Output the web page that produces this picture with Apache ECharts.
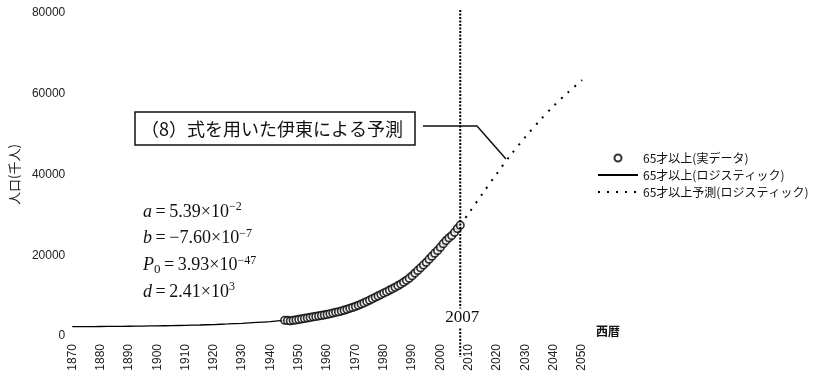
<!DOCTYPE html>
<html>
<head>
<meta charset="utf-8">
<script src="https://cdn.jsdelivr.net/npm/echarts@6/dist/echarts.min.js"></script>
<style>
  html, body { margin: 0; padding: 0; background: #fff; }
  #chart { width: 813px; height: 374px; }
</style>
</head>
<body>
<div id="chart"></div>
<script>
// Logistic fit of the 65+ population (thousands), 1870-2007
const fitYears = [1870, 1875, 1880, 1885, 1890, 1895, 1900, 1905, 1910, 1915, 1920, 1925, 1930, 1935, 1940,
  1945, 1950, 1955, 1960, 1965, 1970, 1975, 1980, 1985, 1990, 1995, 2000, 2005, 2007];
const fitValues = [2300, 2320, 2350, 2380, 2420, 2460, 2510, 2570, 2640, 2730, 2840, 2980, 3150, 3350, 3580,
  3880, 4250, 4730, 5360, 6210, 7310, 8700, 10430, 12550, 15120, 18180, 21730, 25740, 27460];

// Observed 65+ population (thousands), yearly
const obsYears = [1945, 1946, 1947, 1948, 1949, 1950, 1951, 1952, 1953, 1954, 1955, 1956, 1957, 1958, 1959,
  1960, 1961, 1962, 1963, 1964, 1965, 1966, 1967, 1968, 1969, 1970, 1971, 1972, 1973, 1974,
  1975, 1976, 1977, 1978, 1979, 1980, 1981, 1982, 1983, 1984, 1985, 1986, 1987, 1988, 1989,
  1990, 1991, 1992, 1993, 1994, 1995, 1996, 1997, 1998, 1999, 2000, 2001, 2002, 2003, 2004,
  2005, 2006, 2007];
const obsValues = [3900, 3850, 3750, 3880, 3990, 4110, 4240, 4360, 4480, 4600, 4750, 4860, 4970, 5090, 5210,
  5350, 5510, 5680, 5860, 6010, 6180, 6400, 6600, 6860, 7080, 7330, 7600, 7900, 8200, 8550,
  8870, 9220, 9590, 9920, 10270, 10650, 10960, 11350, 11690, 12050, 12470, 12870, 13320, 13780, 14310,
  14900, 15580, 16240, 16900, 17590, 18260, 19020, 19760, 20510, 21190, 22010, 22870, 23630, 24310, 24880,
  25670, 26600, 27460];

// Logistic projection (thousands), 2007-2050
const forecastYears = [2007, 2010, 2015, 2020, 2025, 2030, 2035, 2040, 2045, 2050];
const forecastValues = [27460, 30400, 35400, 40300, 45000, 49300, 53300, 57000, 60300, 63400];

const markYear = 2007;

const seriesNames = ['65才以上(実データ)', '65才以上(ロジスティック)', '65才以上予測(ロジスティック)'];
const paramLines = [
  '{i|a}{n|\u2009=\u20095.39×10}{s|−2}',
  '{i|b}{n|\u2009=\u2009−7.60×10}{s|−7}',
  '{i|P}{sub|0}{n|\u2009=\u20093.93×10}{s|−47}',
  '{i|d}{n|\u2009=\u20092.41×10}{s|3}'
];
const noteText = '（8）式を用いた伊東による予測';

const pairs = (xs, ys) => xs.map((x, i) => [x, ys[i]]);

const chart = echarts.init(document.getElementById('chart'), null, { renderer: 'canvas' });

const sans = '"Liberation Sans", Arial, sans-serif';
const jp = '"Noto Sans CJK JP", sans-serif';
const serif = '"Liberation Serif", "Times New Roman", serif';

chart.setOption({
  animation: false,
  backgroundColor: '#fff',
  grid: { left: 64, right: 231, top: 13, bottom: 38, containLabel: false },
  xAxis: {
    type: 'value',
    min: 1870, max: 2050, interval: 10,
    axisLine: { show: false },
    axisTick: { show: false },
    splitLine: { show: false },
    axisLabel: { rotate: 90, margin: 8, fontSize: 12, fontFamily: sans, color: '#222',
      showMinLabel: true, showMaxLabel: true, formatter: v => String(v) }
  },
  yAxis: {
    type: 'value',
    min: 0, max: 80000, interval: 20000,
    name: '人口(千人)',
    nameLocation: 'middle',
    nameGap: 46,
    nameTextStyle: { fontSize: 13, fontFamily: jp, color: '#222' },
    axisLine: { show: false },
    axisTick: { show: false },
    splitLine: { show: false },
    axisLabel: { margin: 7, fontSize: 12, fontFamily: sans, color: '#222', formatter: v => String(v) }
  },
  legend: {
    orient: 'vertical',
    left: 592, top: 146,
    itemWidth: 40, itemHeight: 7, itemGap: 3,
    textStyle: { fontSize: 12, fontFamily: jp, color: '#111', lineHeight: 14 },
    data: [
      { name: seriesNames[0] },
      { name: seriesNames[1], itemStyle: { opacity: 0 } },
      { name: seriesNames[2], itemStyle: { opacity: 0 } }
    ]
  },
  series: [
    {
      name: seriesNames[1], type: 'line', symbol: 'none', smooth: 0.3, z: 2,
      itemStyle: { color: '#000' },
      lineStyle: { color: '#000', width: 1.3 },
      data: pairs(fitYears, fitValues)
    },
    {
      name: seriesNames[0], type: 'scatter', symbol: 'circle', symbolSize: 7.5, z: 3,
      itemStyle: { color: '#fff', borderColor: '#000', borderWidth: 1.7 },
      data: pairs(obsYears, obsValues)
    },
    {
      name: seriesNames[2], type: 'line', symbol: 'none', smooth: 0.3, z: 2,
      itemStyle: { color: '#000' },
      lineStyle: { color: '#000', width: 2, type: [2, 7] },
      data: pairs(forecastYears, forecastValues)
    }
  ]
});

// Annotations placed from the axes' own scales
const xMark = chart.convertToPixel({ gridIndex: 0 }, [markYear, 0])[0];

const paramRich = {
  i: { fontFamily: serif, fontStyle: 'italic', fontSize: 18, lineHeight: 22, fill: '#111' },
  n: { fontFamily: serif, fontSize: 18, lineHeight: 22, fill: '#111' },
  s: { fontFamily: serif, fontSize: 12, lineHeight: 12, verticalAlign: 'top', fill: '#111' },
  sub: { fontFamily: serif, fontSize: 13, lineHeight: 13, verticalAlign: 'bottom', fill: '#111' }
};

const graphics = [
  // 2007 vertical marker
  {
    type: 'line', z: 50,
    shape: { x1: xMark, y1: 10, x2: xMark, y2: 357 },
    style: { stroke: '#000', lineWidth: 2, lineDash: [2, 1.5] }
  },
  {
    type: 'text', z: 60, x: xMark + 2, y: 318,
    style: { text: String(markYear), font: '17px ' + serif, fill: '#111', align: 'center',
      verticalAlign: 'middle', backgroundColor: '#fff', padding: [1, 1] }
  },
  // Callout box
  {
    type: 'rect', z: 40,
    shape: { x: 135, y: 112, width: 280, height: 33 },
    style: { fill: '#fff', stroke: '#111', lineWidth: 1.5 }
  },
  {
    type: 'text', z: 41, x: 272, y: 129,
    style: { text: noteText, font: '18px ' + jp, fill: '#111', align: 'center', verticalAlign: 'middle' }
  },
  {
    type: 'polyline', z: 45,
    shape: { points: [[423, 126], [477, 126], [506, 159]] },
    style: { stroke: '#111', lineWidth: 1.5, fill: null }
  },
  // x-axis title
  {
    type: 'text', z: 40, x: 596, y: 331,
    style: { text: '西暦', font: 'bold 12px ' + jp, fill: '#111', verticalAlign: 'middle' }
  }
];

paramLines.forEach((t, k) => {
  graphics.push({
    type: 'text', z: 40, x: 143, y: 212 + k * 26.7,
    style: { text: t, rich: paramRich, verticalAlign: 'middle', fill: '#111' }
  });
});

chart.setOption({ graphic: graphics });
</script>
</body>
</html>
